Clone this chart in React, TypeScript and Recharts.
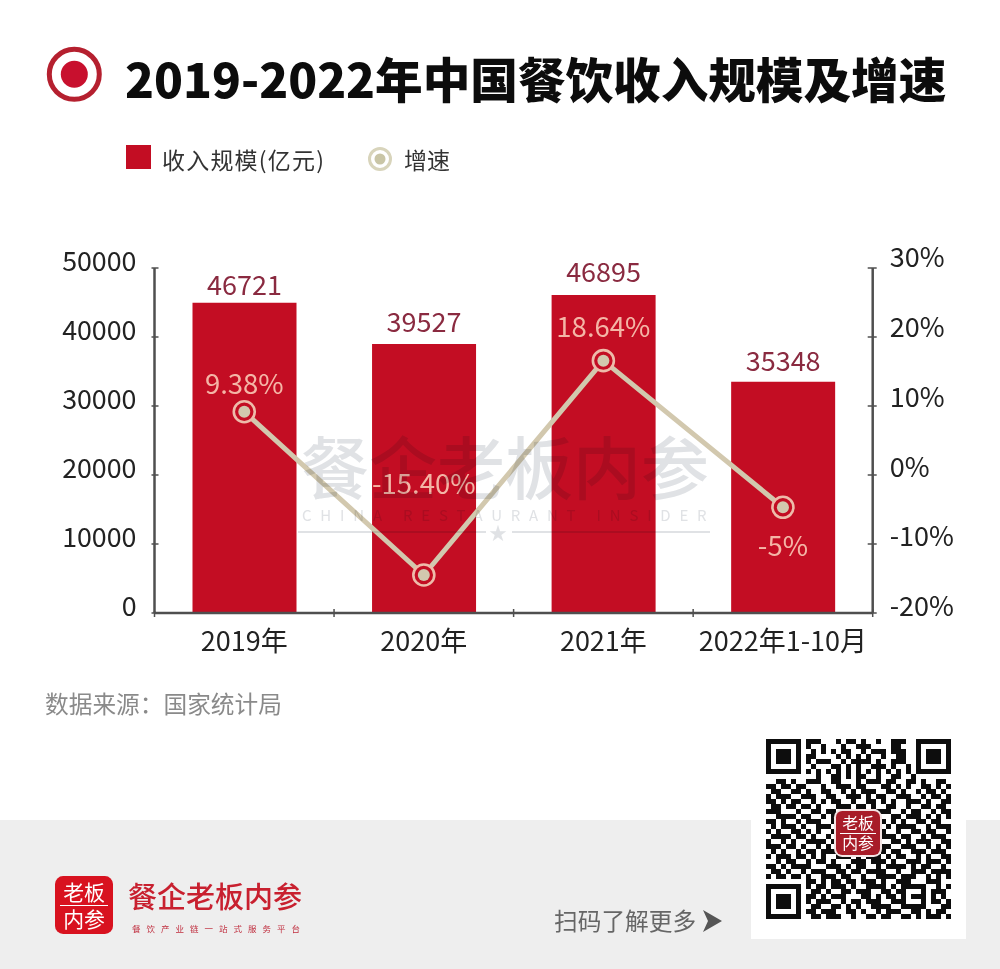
import React from "react";
import { ComposedChart, Bar, Line, XAxis, YAxis, LabelList, Legend } from "recharts";

const FONT = '"Noto Sans CJK SC", "Noto Sans", sans-serif';

const categories = ["2019年", "2020年", "2021年", "2022年1-10月"];
// Heights and marker positions as drawn in the picture
const revenueDrawn = [44970, 38990, 46090, 33520];
const growthDrawn = [9.17, -14.49, 16.57, -4.68];
// Printed labels
const revenueLabels = ["46721", "39527", "46895", "35348"];
const growthLabels = ["9.38%", "-15.40%", "18.64%", "-5%"];
const leftTicks = [0, 10000, 20000, 30000, 40000, 50000];
const rightTicks = [-20, -10, 0, 10, 20, 30];

const qrMiddleTop = [
  "01110001011010010011100",
  "01001000100111000011000",
  "00101010110010111011100",
  "01100001010101001001100",
  "01011100101111010011100",
  "00100011010100111010010",
  "01010101010101010101010",
];
const qrBody = [
  "0000000000100110101100100110010000000",
  "0011010011100110001011101100110100110",
  "1101101100010011101100011010100110101",
  "0110011010011001010111001101001011010",
  "1011100111001100111010110011100101101",
  "1101011001010110010011010100111010011",
  "0110110110100011101101001100100110110",
  "1110001001101100110010111001011001011",
  "0011110110010101001101000110111010101",
  "1101001011100110111010110101001101100",
  "0101110100111001000101001011110010111",
  "1010011010100111010110110010011011001",
  "0111101101001010101001011101100101110",
  "1001010011110101110111000110101110011",
  "1110110100101011001010111001110010101",
  "0101001011011100110101010110011101110",
  "1011101101010011101011101011001010011",
  "0010110010110100011101110100111011101",
  "1101011110001110101100101111010110010",
  "0110100101110011011011110010011101111",
  "1011011010011101100100111101110010101",
  "0000000011010110110111010011100011100",
];
const qrBottomRest = [
  "010110111010011110101111100101",
  "001101001101110011011000101110",
  "011010111000110101101011101010",
  "010111001011011100111000101101",
  "001100110101001111001111100011",
  "011011100110100101110011010110",
  "001101110010011011001101011101",
];
const finder = ["1111111", "1000001", "1011101", "1011101", "1011101", "1000001", "1111111"];

const tableData = categories.map((name, i) => ({
  name,
  revenue: revenueDrawn[i],
  growth: growthDrawn[i],
  revenueLabel: revenueLabels[i],
  growthLabel: growthLabels[i],
}));

const qrRows = [
  ...qrMiddleTop.map((m, i) => finder[i] + m + finder[i]),
  ...qrBody,
  ...qrBottomRest.map((m, i) => finder[i] + m),
].map((r) => r.padEnd(37, "0").slice(0, 37));

const LEFT = 154.5;
const RIGHT = 872.7;
const TOP = 268;
const BOTTOM = 613;
const BAND = (RIGHT - LEFT) / categories.length;
const AXIS = "#4f4f4f";
const RED = "#c30d23";
const TAN = "#d2c8ae";
const GROWTH_LABEL_DY = [-30, -93, -36, 37];
const REVENUE_LABEL_DY = [-19, -23, -24, -22];
const RIGHT_LABEL_DY: Record<number, number> = { 30: -13, 20: -12, 10: -11, 0: -10, [-10]: -10, [-20]: -9 };

const LeftTick = ({ x, y, payload }: any) => (
  <g>
    <line x1={x - 3} x2={x + 4} y1={y} y2={y} stroke={AXIS} strokeWidth={1.5} />
    <text x={x - 18} y={y - 9} textAnchor="end" dominantBaseline="central" fontSize={26.8} fill="#222" fontFamily={FONT}>
      {payload.value}
    </text>
  </g>
);

const RightTick = ({ x, y, payload }: any) => (
  <g>
    <line x1={x - 5} x2={x + 4} y1={y} y2={y} stroke={AXIS} strokeWidth={1.5} />
    <text x={x + 17} y={y + RIGHT_LABEL_DY[payload.value]} textAnchor="start" dominantBaseline="central" fontSize={27} fill="#222" fontFamily={FONT}>
      {`${payload.value}%`}
    </text>
  </g>
);

const BottomTick = ({ x, y, payload, index }: any) => (
  <g>
    <line x1={x + BAND / 2} x2={x + BAND / 2} y1={y - 4} y2={y + 4} stroke={AXIS} strokeWidth={1.5} />
    {index === 0 ? <line x1={x - BAND / 2} x2={x - BAND / 2} y1={y - 2} y2={y + 4} stroke={AXIS} strokeWidth={1.5} /> : null}
    <text x={x} y={y + 26} textAnchor="middle" dominantBaseline="central" fontSize={27} fill="#222" fontFamily={FONT}>
      {payload.value}
    </text>
  </g>
);

const GrowthDot = ({ cx, cy, index }: any) => (
  <g key={index}>
    <circle cx={cx} cy={cy} r={10.5} fill={RED} stroke="#eebbaa" strokeWidth={2.6} />
    <circle cx={cx} cy={cy} r={6} fill={TAN} />
  </g>
);

const GrowthLabel = ({ x, y, index }: any) => (
  <text x={x} y={y + GROWTH_LABEL_DY[index]} textAnchor="middle" dominantBaseline="central" fontSize={27.5} fill="#f4b5a6" fontFamily={FONT}>
    {growthLabels[index]}
  </text>
);

const RevenueLabel = ({ x, y, width, index }: any) => (
  <text x={x + width / 2} y={y + REVENUE_LABEL_DY[index]} textAnchor="middle" dominantBaseline="central" fontSize={27} fill="#8a2a40" fontFamily={FONT}>
    {revenueLabels[index]}
  </text>
);

const LegendContent = ({ payload }: any) => {
  const items = payload || [];
  const bar = items.find((p: any) => p.dataKey === "revenue");
  const line = items.find((p: any) => p.dataKey === "growth");
  const text: React.CSSProperties = { position: "absolute", fontFamily: FONT, fontSize: 23, color: "#333", lineHeight: "30px", whiteSpace: "nowrap" };
  return (
    <div style={{ position: "absolute", left: 0, top: 0, width: 1000, height: 0 }}>
      <div style={{ position: "absolute", left: 126, top: 145, width: 25, height: 24, background: RED }} />
      <div style={{ ...text, left: 162, top: 144, letterSpacing: 1.2 }}>{bar ? bar.value : ""}</div>
      <svg style={{ position: "absolute", left: 366, top: 145 }} width={28} height={28}>
        <circle cx={14} cy={14} r={10.5} fill="#fff" stroke="#d8d4bb" strokeWidth={3} />
        <circle cx={14} cy={14} r={5.5} fill="#c9c5a6" />
      </svg>
      <div style={{ ...text, left: 404, top: 144 }}>{line ? line.value : ""}</div>
    </div>
  );
};

const QrCode = ({ left, top, size }: { left: number; top: number; size: number }) => (
  <svg style={{ position: "absolute", left, top }} width={size * 37} height={size * 37} shapeRendering="crispEdges">
    {qrRows.map((row, r) =>
      row.split("").map((c, k) => (c === "1" ? <rect key={`${r}-${k}`} x={k * size} y={r * size} width={size} height={size} fill="#0d0d0d" /> : null))
    )}
  </svg>
);

const LogoMark = ({ left, top, size, bg, border }: { left: number; top: number; size: number; bg: string; border?: string }) => {
  const fs = size * 0.36;
  return (
    <div
      style={{
        position: "absolute", left, top, width: size, height: size, background: bg, borderRadius: size * 0.14,
        boxShadow: border ? `0 0 0 2px ${border}` : undefined, color: "#fff", fontFamily: FONT, fontSize: fs, lineHeight: 1, textAlign: "center",
      }}
    >
      <div style={{ position: "absolute", left: 0, right: 0, top: size * 0.09 }}>老板</div>
      <div style={{ position: "absolute", left: size * 0.08, right: size * 0.08, top: size * 0.5, height: 1, background: "#fff" }} />
      <div style={{ position: "absolute", left: 0, right: 0, top: size * 0.55 }}>内参</div>
    </div>
  );
};

export default function App() {
  return (
    <div style={{ position: "absolute", left: 0, top: 0, width: 1000, height: 969, background: "#fff", overflow: "hidden", fontFamily: FONT }}>
      <div style={{ position: "absolute", left: 0, top: 820, width: 1000, height: 149, background: "#eeeeee" }} />

      <svg style={{ position: "absolute", left: 40, top: 40 }} width={70} height={70}>
        <circle cx={34.3} cy={34.3} r={25} fill="none" stroke="#b5202f" strokeWidth={5} />
        <circle cx={34.3} cy={34.3} r={13.5} fill="#c8102e" />
      </svg>
      <div style={{ position: "absolute", left: 125, top: 42, fontSize: 47.6, fontWeight: 900, color: "#0c0c0c", lineHeight: "72px", whiteSpace: "nowrap" }}>
        2019-2022年中国餐饮收入规模及增速
      </div>

      <div style={{ position: "absolute", left: 0, top: 0 }}>
        <ComposedChart
          width={1000}
          height={969}
          data={tableData}
          margin={{ top: TOP, right: 0, bottom: 306, left: 0 }}
          barCategoryGap={0}
        >
          <XAxis dataKey="name" axisLine={{ stroke: AXIS, strokeWidth: 2.5 }} tickLine={false} tickSize={0} tickMargin={0} height={50} tick={<BottomTick />} interval={0} />
          <YAxis yAxisId="left" orientation="left" width={LEFT} domain={[0, 50000]} ticks={leftTicks} axisLine={{ stroke: AXIS, strokeWidth: 2.5 }} tickLine={false} tickSize={0} tickMargin={0} tick={<LeftTick />} interval={0} />
          <YAxis yAxisId="right" orientation="right" width={1000 - RIGHT} domain={[-20, 30]} ticks={rightTicks} axisLine={{ stroke: AXIS, strokeWidth: 2.5 }} tickLine={false} tickSize={0} tickMargin={0} tick={<RightTick />} interval={0} />
          <Legend content={<LegendContent />} wrapperStyle={{ position: "absolute", left: 0, top: 0, width: 1000, height: 0 }} />
          <Bar yAxisId="left" dataKey="revenue" name="收入规模(亿元)" fill={RED} barSize={104} isAnimationActive={false}>
            <LabelList dataKey="revenueLabel" content={<RevenueLabel />} />
          </Bar>
          <Line yAxisId="right" dataKey="growth" name="增速" stroke={TAN} strokeWidth={5} dot={<GrowthDot />} activeDot={false} isAnimationActive={false}>
            <LabelList dataKey="growthLabel" content={<GrowthLabel />} />
          </Line>
        </ComposedChart>
      </div>

      <div style={{ position: "absolute", left: 298, top: 425, width: 414, height: 115, mixBlendMode: "multiply", pointerEvents: "none", color: "#e0e2e5" }}>
        <div style={{ position: "absolute", left: 0, top: 0, width: 414, textAlign: "center", fontSize: 68, fontWeight: 500, lineHeight: "80px", whiteSpace: "nowrap" }}>餐企老板内参</div>
        <div style={{ position: "absolute", left: 4, top: 78, fontSize: 15, letterSpacing: 8.8, lineHeight: "24px", whiteSpace: "nowrap" }}>CHINA RESTAURANT INSIDER</div>
        <div style={{ position: "absolute", left: 0, top: 106, width: 188, height: 2, background: "#e0e2e5" }} />
        <div style={{ position: "absolute", left: 214, top: 106, width: 198, height: 2, background: "#e0e2e5" }} />
        <div style={{ position: "absolute", left: 191, top: 97, fontSize: 18, lineHeight: "20px" }}>★</div>
      </div>

      <div style={{ position: "absolute", left: 45, top: 686, fontSize: 23.7, color: "#8a8a8a", lineHeight: "34px", whiteSpace: "nowrap" }}>数据来源：国家统计局</div>

      <LogoMark left={55} top={876} size={58} bg="#d8121f" />
      <div style={{ position: "absolute", left: 128, top: 875, fontSize: 29, fontWeight: 500, color: "#c8202f", lineHeight: "40px", whiteSpace: "nowrap" }}>餐企老板内参</div>
      <div style={{ position: "absolute", left: 132, top: 921, fontSize: 8.5, letterSpacing: 6, color: "#c03040", lineHeight: "14px", whiteSpace: "nowrap" }}>餐饮产业链一站式服务平台</div>

      <div style={{ position: "absolute", left: 554, top: 903, fontSize: 23.7, color: "#666", lineHeight: "34px", whiteSpace: "nowrap" }}>扫码了解更多</div>
      <svg style={{ position: "absolute", left: 700, top: 908 }} width={24} height={26}>
        <polygon points="3,2 22,13 3,24 8,13" fill="#555" />
      </svg>

      <div style={{ position: "absolute", left: 751, top: 820, width: 215, height: 119, background: "#fff" }} />
      <QrCode left={766} top={739} size={5} />
      <LogoMark left={836} top={811} size={44} bg="#a81c28" border="#f4e4e4" />
    </div>
  );
}
